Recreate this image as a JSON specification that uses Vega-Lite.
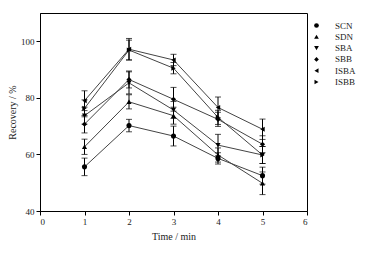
{
  "$schema": "https://vega.github.io/schema/vega-lite/v6.json",
  "autosize": {"type": "none"},
  "padding": {"left": 40, "top": 13, "right": 58, "bottom": 43},
  "width": 267,
  "height": 198,
  "background": "white",
  "config": {
    "font": "Liberation Serif",
    "view": {"stroke": "black", "strokeWidth": 1},
    "axis": {
      "grid": false,
      "domainColor": "black",
      "tickColor": "black",
      "labelColor": "#222",
      "titleColor": "#222",
      "labelFont": "Liberation Serif",
      "titleFont": "Liberation Serif",
      "labelFontSize": 9,
      "titleFontSize": 10,
      "titleFontWeight": "normal",
      "tickSize": 4
    },
    "legend": {
      "labelFont": "Liberation Serif",
      "labelFontSize": 9,
      "labelColor": "#222"
    }
  },
  "data": {
    "values": [
      {"t": 1, "s": "SCN", "v": 55.6, "lo": 52.5, "hi": 58.7},
      {"t": 2, "s": "SCN", "v": 70.2, "lo": 68.0, "hi": 72.4},
      {"t": 3, "s": "SCN", "v": 66.5, "lo": 63.0, "hi": 70.0},
      {"t": 4, "s": "SCN", "v": 58.6, "lo": 56.6, "hi": 60.6},
      {"t": 5, "s": "SCN", "v": 52.5, "lo": 49.5, "hi": 55.5},
      {"t": 1, "s": "SDN", "v": 62.7, "lo": 60.0, "hi": 65.4},
      {"t": 2, "s": "SDN", "v": 78.6, "lo": 76.1, "hi": 81.1},
      {"t": 3, "s": "SDN", "v": 73.7, "lo": 70.7, "hi": 76.7},
      {"t": 4, "s": "SDN", "v": 59.8, "lo": 57.3, "hi": 62.3},
      {"t": 5, "s": "SDN", "v": 49.8, "lo": 45.8, "hi": 53.8},
      {"t": 1, "s": "SBA", "v": 73.7, "lo": 70.7, "hi": 76.7},
      {"t": 2, "s": "SBA", "v": 85.3, "lo": 81.4, "hi": 89.2},
      {"t": 3, "s": "SBA", "v": 75.7, "lo": 72.7, "hi": 78.7},
      {"t": 4, "s": "SBA", "v": 63.3, "lo": 59.5, "hi": 67.1},
      {"t": 5, "s": "SBA", "v": 59.8, "lo": 56.8, "hi": 62.8},
      {"t": 1, "s": "SBB", "v": 70.7, "lo": 67.6, "hi": 73.8},
      {"t": 2, "s": "SBB", "v": 86.5, "lo": 83.5, "hi": 89.5},
      {"t": 3, "s": "SBB", "v": 79.5, "lo": 75.3, "hi": 83.7},
      {"t": 4, "s": "SBB", "v": 72.4, "lo": 69.9, "hi": 74.9},
      {"t": 5, "s": "SBB", "v": 63.6, "lo": 60.6, "hi": 66.6},
      {"t": 1, "s": "ISBA", "v": 79.0, "lo": 75.5, "hi": 82.5},
      {"t": 2, "s": "ISBA", "v": 97.2, "lo": 93.4, "hi": 101.0},
      {"t": 3, "s": "ISBA", "v": 93.4, "lo": 91.4, "hi": 95.4},
      {"t": 4, "s": "ISBA", "v": 76.6, "lo": 72.9, "hi": 80.3},
      {"t": 5, "s": "ISBA", "v": 68.9, "lo": 65.3, "hi": 72.5},
      {"t": 1, "s": "ISBB", "v": 76.3, "lo": 73.3, "hi": 79.3},
      {"t": 2, "s": "ISBB", "v": 96.9, "lo": 93.4, "hi": 100.4},
      {"t": 3, "s": "ISBB", "v": 90.5, "lo": 88.5, "hi": 92.5},
      {"t": 4, "s": "ISBB", "v": 73.1, "lo": 70.6, "hi": 75.6},
      {"t": 5, "s": "ISBB", "v": 59.8, "lo": 56.8, "hi": 62.8}
    ]
  },
  "encoding": {
    "x": {
      "field": "t", "type": "quantitative",
      "scale": {"domain": [0, 6], "nice": false},
      "axis": {"values": [0, 1, 2, 3, 4, 5, 6], "title": "Time / min", "titlePadding": 5}
    }
  },
  "layer": [
    {
      "mark": {"type": "line", "color": "#444", "strokeWidth": 1},
      "encoding": {
        "y": {"field": "v", "type": "quantitative", "title": "Recovery / %"},
        "detail": {"field": "s"}
      }
    },
    {
      "mark": {"type": "errorbar", "color": "black", "thickness": 1, "ticks": {"size": 6, "color": "black"}},
      "encoding": {
        "y": {"field": "lo", "type": "quantitative", "title": "Recovery / %"},
        "y2": {"field": "hi"}
      }
    },
    {
      "mark": {"type": "point", "filled": true, "color": "black", "opacity": 1, "size": 26},
      "encoding": {
        "y": {
          "field": "v", "type": "quantitative",
          "scale": {"domain": [40, 110], "nice": false, "zero": false},
          "axis": {"values": [40, 60, 80, 100], "title": "Recovery / %", "titlePadding": 3}
        },
        "shape": {
          "field": "s", "type": "nominal",
          "scale": {
            "domain": ["SCN", "SDN", "SBA", "SBB", "ISBA", "ISBB"],
            "range": ["circle", "triangle-up", "triangle-down", "diamond", "triangle-left", "triangle-right"]
          },
          "legend": {
            "title": null,
            "orient": "none",
            "legendX": 272,
            "legendY": 8,
            "padding": 0,
            "symbolSize": 22,
            "symbolFillColor": "black",
            "symbolStrokeColor": "black",
            "rowPadding": 0.3,
            "labelOffset": 14,
            "symbolOffset": 0
          }
        }
      }
    }
  ]
}
